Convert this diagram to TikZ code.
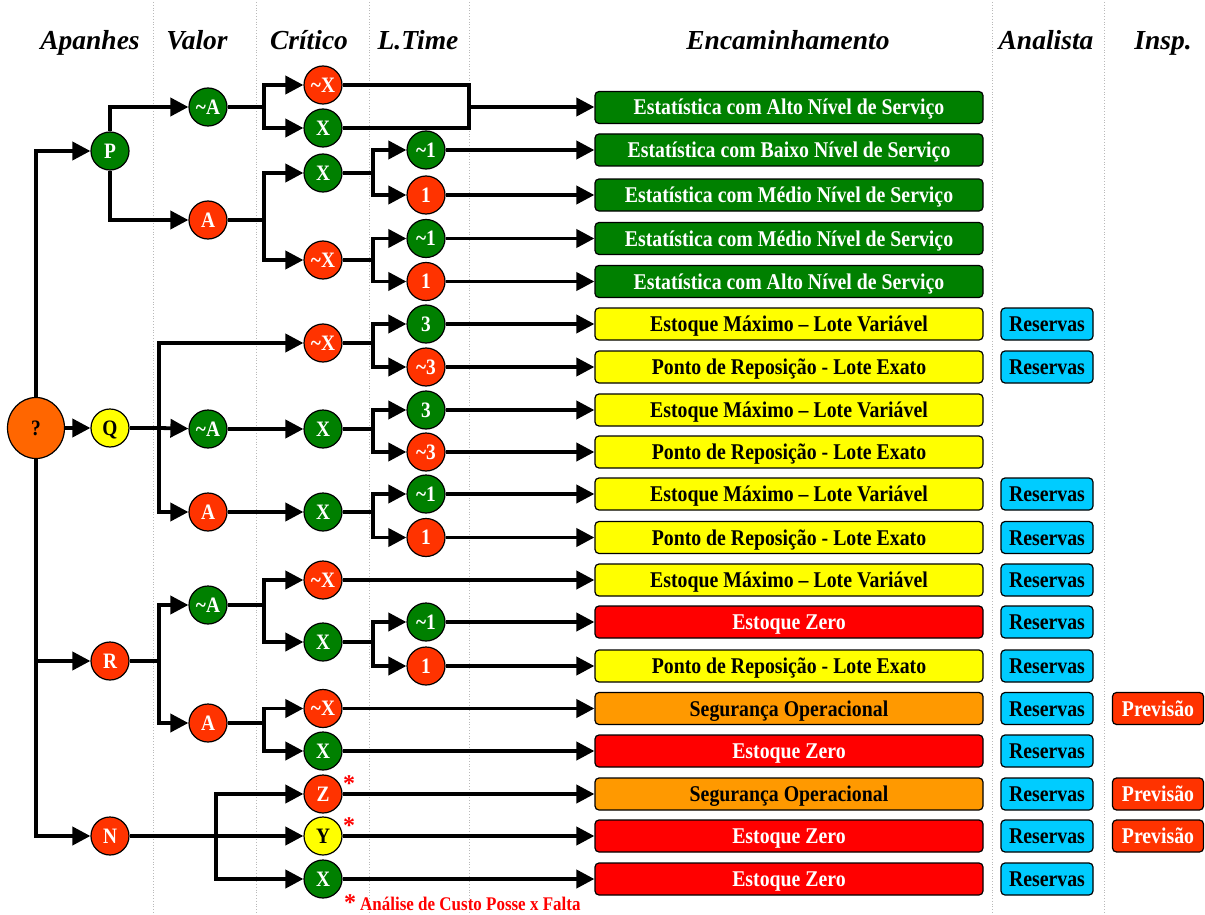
\documentclass[tikz,border=0pt]{standalone}
\usepackage{fontspec}
\setmainfont{Liberation Serif}
\newfontfamily\cf[FakeStretch=0.88]{Liberation Serif}
\usetikzlibrary{arrows.meta,shapes.geometric,calc}
\definecolor{cgreen}{HTML}{008000}
\definecolor{cred}{HTML}{FF3300}
\definecolor{zred}{HTML}{FF0000}
\definecolor{cyel}{HTML}{FFFF00}
\definecolor{corange}{HTML}{FF9900}
\definecolor{ccyan}{HTML}{00CCFF}
\definecolor{qorange}{HTML}{FF6600}
\newcommand{\tl}{\textasciitilde}
\begin{document}
\begin{tikzpicture}[x=1pt,y=-1pt,
  ln/.style={line width=3.8pt},
  arr/.style={line width=3.8pt,-{Triangle[length=18pt,width=18pt]}},
  circ/.style={circle,draw=black,line width=1.2pt,minimum size=38pt,inner sep=0pt,text height=16.3pt,text depth=2pt,font=\cf\fontsize{22}{22}\selectfont\bfseries},
  gn/.style={circ,fill=cgreen,text=white},
  rn/.style={circ,fill=cred,text=white},
  yn/.style={circ,fill=cyel,text=black},
  lbl/.style={rectangle,rounded corners=4pt,draw=black,line width=1.2pt,minimum height=32pt,inner sep=0pt,text height=17pt,text depth=2pt,font=\cf\fontsize{22.5}{22.5}\selectfont\bfseries},
  encbox/.style={lbl,minimum width=388pt},
  gbox/.style={encbox,fill=cgreen,text=white},
  ybox/.style={encbox,fill=cyel,text=black},
  zbox/.style={encbox,fill=zred,text=white},
  obox/.style={encbox,fill=corange,text=black},
  resbox/.style={lbl,minimum width=92pt,fill=ccyan,text=black},
  prevbox/.style={lbl,minimum width=91pt,fill=cred,text=white},
  header/.style={anchor=base,inner sep=0pt,font=\fontsize{27.5}{27.5}\selectfont\bfseries\itshape},
  sep/.style={draw=gray!55,dotted,line width=0.8pt},
  star/.style={text=zred,font=\fontsize{24}{24}\selectfont\bfseries,inner sep=0pt}
]
\useasboundingbox (0,0) rectangle (1205,915);

% column separators
\foreach \xx in {153,256,369,469,992,1104} \draw[sep] (\xx,2) -- (\xx,915);

% headers
\node[header] (hAp) at (90,50) {Apanhes};
\node[header] (hVa) at (197,50) {Valor};
\node[header] (hCr) at (309,50) {Crítico};
\node[header] (hLT) at (418,50) {L.Time};
\node[header] (hEn) at (788,50) {Encaminhamento};
\node[header] (hAn) at (1046,50) {Analista};
\node[header] (hIn) at (1163,50) {Insp.};

% column coordinates
\coordinate (XT) at (36,0);
\coordinate (X1) at (159,0);
\coordinate (XN) at (216,0);
\coordinate (X2) at (264,0);
\coordinate (X3) at (373,0);
\coordinate (X4) at (469,0);

% root
\node[ellipse,draw=black,line width=1.2pt,fill=qorange,minimum width=57pt,minimum height=61pt,inner sep=0pt,font=\cf\fontsize{22}{22}\selectfont\bfseries] (qm) at (36,428) {?};

% Apanhes
\node[gn] (P) at (110,151) {P};
\node[yn] (Q) at (110,428) {Q};
\node[rn] (R) at (110,661) {R};
\node[rn] (N) at (110,836) {N};

% Valor
\node[gn] (vPa) at (208,107) {\tl A};
\node[rn] (vPb) at (208,220) {A};
\node[gn] (vQa) at (208,429) {\tl A};
\node[rn] (vQb) at (208,512) {A};
\node[gn] (vRa) at (208,605) {\tl A};
\node[rn] (vRb) at (208,723) {A};

% Critico
\node[rn] (c1) at (323,85) {\tl X};
\node[gn] (c2) at (323,128) {X};
\node[gn] (c3) at (323,173) {X};
\node[rn] (c4) at (323,260) {\tl X};
\node[rn] (c5) at (323,343) {\tl X};
\node[gn] (c6) at (323,429) {X};
\node[gn] (c7) at (323,512) {X};
\node[rn] (c8) at (323,580) {\tl X};
\node[gn] (c9) at (323,642) {X};
\node[rn] (c10) at (323,708.5) {\tl X};
\node[gn] (c11) at (323,751) {X};
\node[rn] (c12) at (323,794) {Z};
\node[yn] (c13) at (323,836) {Y};
\node[gn] (c14) at (323,879) {X};

% L.Time
\node[gn] (l1) at (426,150) {\tl 1};
\node[rn] (l2) at (426,195) {1};
\node[gn] (l3) at (426,238.5) {\tl 1};
\node[rn] (l4) at (426,281.5) {1};
\node[gn] (l5) at (426,324) {3};
\node[rn] (l6) at (426,367) {\tl 3};
\node[gn] (l7) at (426,410) {3};
\node[rn] (l8) at (426,452) {\tl 3};
\node[gn] (l9) at (426,494) {\tl 1};
\node[rn] (l10) at (426,537.5) {1};
\node[gn] (l11) at (426,622) {\tl 1};
\node[rn] (l12) at (426,666) {1};

% Encaminhamento boxes
\node[gbox] (b1) at (789,107.5) {Estatística com Alto Nível de Serviço};
\node[gbox] (b2) at (789,150) {Estatística com Baixo Nível de Serviço};
\node[gbox] (b3) at (789,195) {Estatística com Médio Nível de Serviço};
\node[gbox] (b4) at (789,238.5) {Estatística com Médio Nível de Serviço};
\node[gbox] (b5) at (789,281.5) {Estatística com Alto Nível de Serviço};
\node[ybox] (b6) at (789,324) {Estoque Máximo – Lote Variável};
\node[ybox] (b7) at (789,367) {Ponto de Reposição - Lote Exato};
\node[ybox] (b8) at (789,410) {Estoque Máximo – Lote Variável};
\node[ybox] (b9) at (789,452) {Ponto de Reposição - Lote Exato};
\node[ybox] (b10) at (789,494) {Estoque Máximo – Lote Variável};
\node[ybox] (b11) at (789,537.5) {Ponto de Reposição - Lote Exato};
\node[ybox] (b12) at (789,580) {Estoque Máximo – Lote Variável};
\node[zbox] (b13) at (789,622) {Estoque Zero};
\node[ybox] (b14) at (789,666) {Ponto de Reposição - Lote Exato};
\node[obox] (b15) at (789,708.5) {Segurança Operacional};
\node[zbox] (b16) at (789,751) {Estoque Zero};
\node[obox] (b17) at (789,794) {Segurança Operacional};
\node[zbox] (b18) at (789,836) {Estoque Zero};
\node[zbox] (b19) at (789,879) {Estoque Zero};

% Reservas
\foreach \r in {6,7,10,11,12,13,14,15,16,17,18,19}
  \node[resbox] (res\r) at (1047,0 |- b\r) {Reservas};
% Previsao
\foreach \r in {15,17,18}
  \node[prevbox] (prev\r) at (1158,0 |- b\r) {Previsão};

% asterisks and footnote
\node[star] (s1) at (349,784) {*};
\node[star] (s2) at (349,826) {*};
\node[star] (s3) at (350,903) {*};
\node[anchor=base west,text=zred,inner sep=0pt,font=\cf\fontsize{19.3}{19.3}\selectfont\bfseries] (fn) at (360,910) {Análise de Custo Posse x Falta};

% ---- connectors ----
% trunk
\draw[arr] (qm.north) |- (P);
\draw[arr] (qm.south) |- (N);
\draw[arr] (qm.south |- R) -- (R);
\draw[arr] (qm.east) -- (Q);

% P branch
\draw[arr] (P.north) |- (vPa);
\draw[arr] (P.south) |- (vPb);
\draw[ln] (vPa.east) -- (vPa.east -| X2);
\draw[arr] (vPa.east -| X2) |- (c1);
\draw[arr] (vPa.east -| X2) |- (c2);
\draw[ln] (c1.east) -| (vPa.east -| X4) |- (c2.east);
\draw[arr] (vPa.east -| X4) -- (vPa.east -| b1.west);
\draw[ln] (vPb.east) -- (vPb.east -| X2);
\draw[arr] (vPb.east -| X2) |- (c3);
\draw[arr] (vPb.east -| X2) |- (c4);
\draw[ln] (c3.east) -- (c3.east -| X3);
\draw[arr] (c3.east -| X3) |- (l1);
\draw[arr] (c3.east -| X3) |- (l2);
\draw[ln] (c4.east) -- (c4.east -| X3);
\draw[arr] (c4.east -| X3) |- (l3);
\draw[arr] (c4.east -| X3) |- (l4);

% Q branch
\draw[ln] (Q.east) -- (Q.east -| X1);
\draw[arr] (Q.east -| X1) |- (c5);
\draw[arr] (Q.east -| X1) -- (vQa);
\draw[arr] (Q.east -| X1) |- (vQb);
\draw[arr] (vQa) -- (c6);
\draw[arr] (vQb) -- (c7);
\draw[ln] (c5.east) -- (c5.east -| X3);
\draw[arr] (c5.east -| X3) |- (l5);
\draw[arr] (c5.east -| X3) |- (l6);
\draw[ln] (c6.east) -- (c6.east -| X3);
\draw[arr] (c6.east -| X3) |- (l7);
\draw[arr] (c6.east -| X3) |- (l8);
\draw[ln] (c7.east) -- (c7.east -| X3);
\draw[arr] (c7.east -| X3) |- (l9);
\draw[arr] (c7.east -| X3) |- (l10);

% R branch
\draw[ln] (R.east) -- (R.east -| X1);
\draw[arr] (R.east -| X1) |- (vRa);
\draw[arr] (R.east -| X1) |- (vRb);
\draw[ln] (vRa.east) -- (vRa.east -| X2);
\draw[arr] (vRa.east -| X2) |- (c8);
\draw[arr] (vRa.east -| X2) |- (c9);
\draw[ln] (c9.east) -- (c9.east -| X3);
\draw[arr] (c9.east -| X3) |- (l11);
\draw[arr] (c9.east -| X3) |- (l12);
\draw[ln] (vRb.east) -- (vRb.east -| X2);
\draw[arr] (vRb.east -| X2) |- (c10);
\draw[arr] (vRb.east -| X2) |- (c11);

% N branch
\draw[ln] (N.east) -- (N.east -| XN);
\draw[arr] (N.east -| XN) |- (c12);
\draw[arr] (N.east -| XN) -- (c13);
\draw[arr] (N.east -| XN) |- (c14);

% to boxes
\draw[arr] (l1.east) -- (l1.east -| b2.west);
\draw[arr] (l2.east) -- (l2.east -| b3.west);
\draw[arr] (l3.east) -- (l3.east -| b4.west);
\draw[arr] (l4.east) -- (l4.east -| b5.west);
\draw[arr] (l5.east) -- (l5.east -| b6.west);
\draw[arr] (l6.east) -- (l6.east -| b7.west);
\draw[arr] (l7.east) -- (l7.east -| b8.west);
\draw[arr] (l8.east) -- (l8.east -| b9.west);
\draw[arr] (l9.east) -- (l9.east -| b10.west);
\draw[arr] (l10.east) -- (l10.east -| b11.west);
\draw[arr] (c8.east) -- (c8.east -| b12.west);
\draw[arr] (l11.east) -- (l11.east -| b13.west);
\draw[arr] (l12.east) -- (l12.east -| b14.west);
\draw[arr] (c10.east) -- (c10.east -| b15.west);
\draw[arr] (c11.east) -- (c11.east -| b16.west);
\draw[arr] (c12.east) -- (c12.east -| b17.west);
\draw[arr] (c13.east) -- (c13.east -| b18.west);
\draw[arr] (c14.east) -- (c14.east -| b19.west);
\end{tikzpicture}
\end{document}
